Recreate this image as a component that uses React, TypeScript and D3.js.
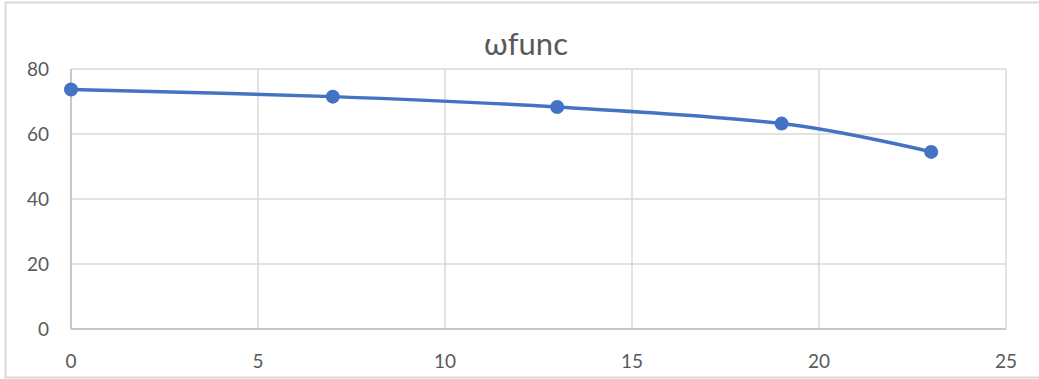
import React from "react";
import * as d3 from "d3";

const xValues = [0, 7, 13, 19, 23];
const yValues = [73.7, 71.5, 68.3, 63.2, 54.5];
const xTicks = [0, 5, 10, 15, 20, 25];
const yTicks = [0, 20, 40, 60, 80];
const title = "ωfunc";

const W = 1039;
const H = 379;
const FONT = "Lato, 'Open Sans', sans-serif";

export default function App() {
  const x = d3.scaleLinear().domain([0, 25]).range([71, 1006]);
  const y = d3.scaleLinear().domain([0, 80]).range([329, 69]);
  const pts = xValues.map((v, i) => [x(v), y(yValues[i])] as [number, number]);
  const line = d3.line().curve(d3.curveCardinal.tension(0))(pts) || "";
  const grid = "#d9d9d9";
  const text = "#595959";
  return (
    <svg
      width={W}
      height={H}
      style={{ position: "absolute", left: 0, top: 0, background: "#fff" }}
    >
      <rect x={5.5} y={2.5} width={W + 10} height={375} fill="#fff" stroke={grid} strokeWidth={2} />
      {yTicks.map((t) => (
        <line key={"gy" + t} x1={x(0)} x2={x(25)} y1={y(t)} y2={y(t)} stroke={grid} strokeWidth={1.5} />
      ))}
      {xTicks.map((t) => (
        <line key={"gx" + t} x1={x(t)} x2={x(t)} y1={y(0)} y2={y(80)} stroke={grid} strokeWidth={1.5} />
      ))}
      <line x1={x(0)} x2={x(25)} y1={y(0)} y2={y(0)} stroke="#bfbfbf" strokeWidth={1.5} />
      <line x1={x(0)} x2={x(0)} y1={y(0)} y2={y(80)} stroke="#bfbfbf" strokeWidth={1.5} />
      {yTicks.map((t) => (
        <text key={"ly" + t} x={49} y={y(t)} dy="0.36em" textAnchor="end" fontFamily={FONT} fontSize={19} fill={text}>
          {t}
        </text>
      ))}
      {xTicks.map((t) => (
        <text key={"lx" + t} x={x(t)} y={368} textAnchor="middle" fontFamily={FONT} fontSize={19} fill={text}>
          {t}
        </text>
      ))}
      <text x={526} y={55} textAnchor="middle" fontFamily={FONT} fontSize={31} fill={text}>
        {title}
      </text>
      <path d={line} fill="none" stroke="#4472C4" strokeWidth={3.5} strokeLinecap="round" />
      {pts.map((p, i) => (
        <circle key={i} cx={p[0]} cy={p[1]} r={7} fill="#4472C4" />
      ))}
    </svg>
  );
}
